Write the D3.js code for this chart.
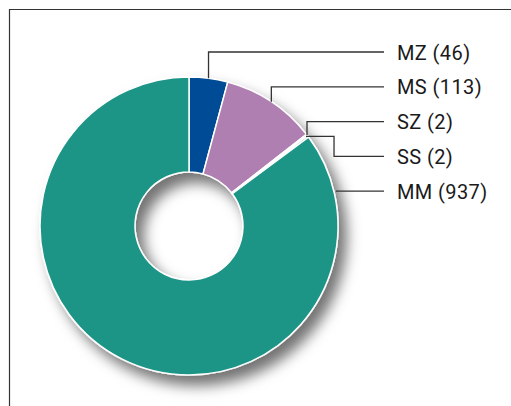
<!DOCTYPE html>
<html>
<head>
<meta charset="utf-8">
<script src="https://cdn.jsdelivr.net/npm/d3@7"></script>
<style>
  body { margin: 0; background: #fff; }
  text { font-family: Roboto, "DejaVu Sans", sans-serif; }
</style>
</head>
<body>
<script>
    // data
    var categories = ['MZ', 'MS', 'SZ', 'SS', 'MM'];
    var counts = [46, 113, 2, 2, 937];
    var colors = ['#004b96', '#b07fb1', '#d8404f', '#1d9587', '#1d9587'];
    // how each leader runs: v = up then across, hv = across, down, across, h = straight across
    var routes = ['v', 'v', 'v', 'hv', 'h'];

    var width = 511;
    var height = 406;
    var cx = 189;
    var cy = 226;
    var outerR = 149;
    var innerR = 54;
    var labelX = 397;
    var labelTop = 52;
    var labelStep = 34.8;

    var values = categories.map((c, i) => ({ name: c, value: counts[i], color: colors[i], route: routes[i] }));

    var svg = d3.select('body')
        .append('svg')
        .attr('width', width)
        .attr('height', height);

    // frame
    svg.append('path')
        .attr('d', 'M9.5,' + height + 'V9.5H' + width)
        .attr('fill', 'none')
        .attr('stroke', '#333')
        .attr('stroke-width', 1.2);

    var defs = svg.append('defs');
    defs.append('filter')
        .attr('id', 'shadow')
        .attr('x', '-20%').attr('y', '-20%')
        .attr('width', '150%').attr('height', '150%')
        .append('feDropShadow')
        .attr('dx', 8)
        .attr('dy', 10)
        .attr('stdDeviation', 7)
        .attr('flood-color', '#000')
        .attr('flood-opacity', 0.55);

    var pie = d3.pie().sort(null).value(d => d.value);
    var arc = d3.arc().innerRadius(innerR).outerRadius(outerR);
    var arcs = pie(values);

    var g = svg.append('g')
        .attr('transform', 'translate(' + cx + ',' + cy + ')')
        .attr('filter', 'url(#shadow)');

    g.selectAll('path')
        .data(arcs)
        .enter()
        .append('path')
        .attr('d', arc)
        .attr('fill', d => d.data.color)
        .attr('stroke', '#fff')
        .attr('stroke-width', 1.5)
        .attr('stroke-linejoin', 'round');

    var yScale = d3.scaleLinear()
        .domain([0, 1])
        .range([labelTop, labelTop + labelStep]);

    var leader = (d, i) => {
        var ly = yScale(i);
        var a = (d.startAngle + d.endAngle) / 2;
        var px = cx + outerR * Math.sin(a);
        var py = cy - outerR * Math.cos(a);
        if (d.data.route == 'v') {
            return 'M' + px + ',' + py + 'V' + ly + 'H' + (labelX - 13);
        }
        if (d.data.route == 'hv') {
            return 'M' + (px - 2) + ',' + py + 'H' + (px + 26) + 'V' + ly + 'H' + (labelX - 13);
        }
        // straight across from where the ring meets the label line
        var ax = cx + Math.sqrt(outerR * outerR - (ly - cy) * (ly - cy));
        return 'M' + (ax + 2) + ',' + ly + 'H' + (labelX - 13);
    };

    svg.append('g')
        .selectAll('path')
        .data(arcs)
        .enter()
        .append('path')
        .attr('d', leader)
        .attr('fill', 'none')
        .attr('stroke', '#333')
        .attr('stroke-width', 1.3);

    svg.append('g')
        .selectAll('text')
        .data(arcs)
        .enter()
        .append('text')
        .attr('x', labelX)
        .attr('y', (d, i) => yScale(i) + 7.5)
        .attr('font-size', 20)
        .attr('letter-spacing', 0.4)
        .attr('fill', '#1a1a1a')
        .text(d => d.data.name + ' (' + d.data.value + ')');
</script>
</body>
</html>
